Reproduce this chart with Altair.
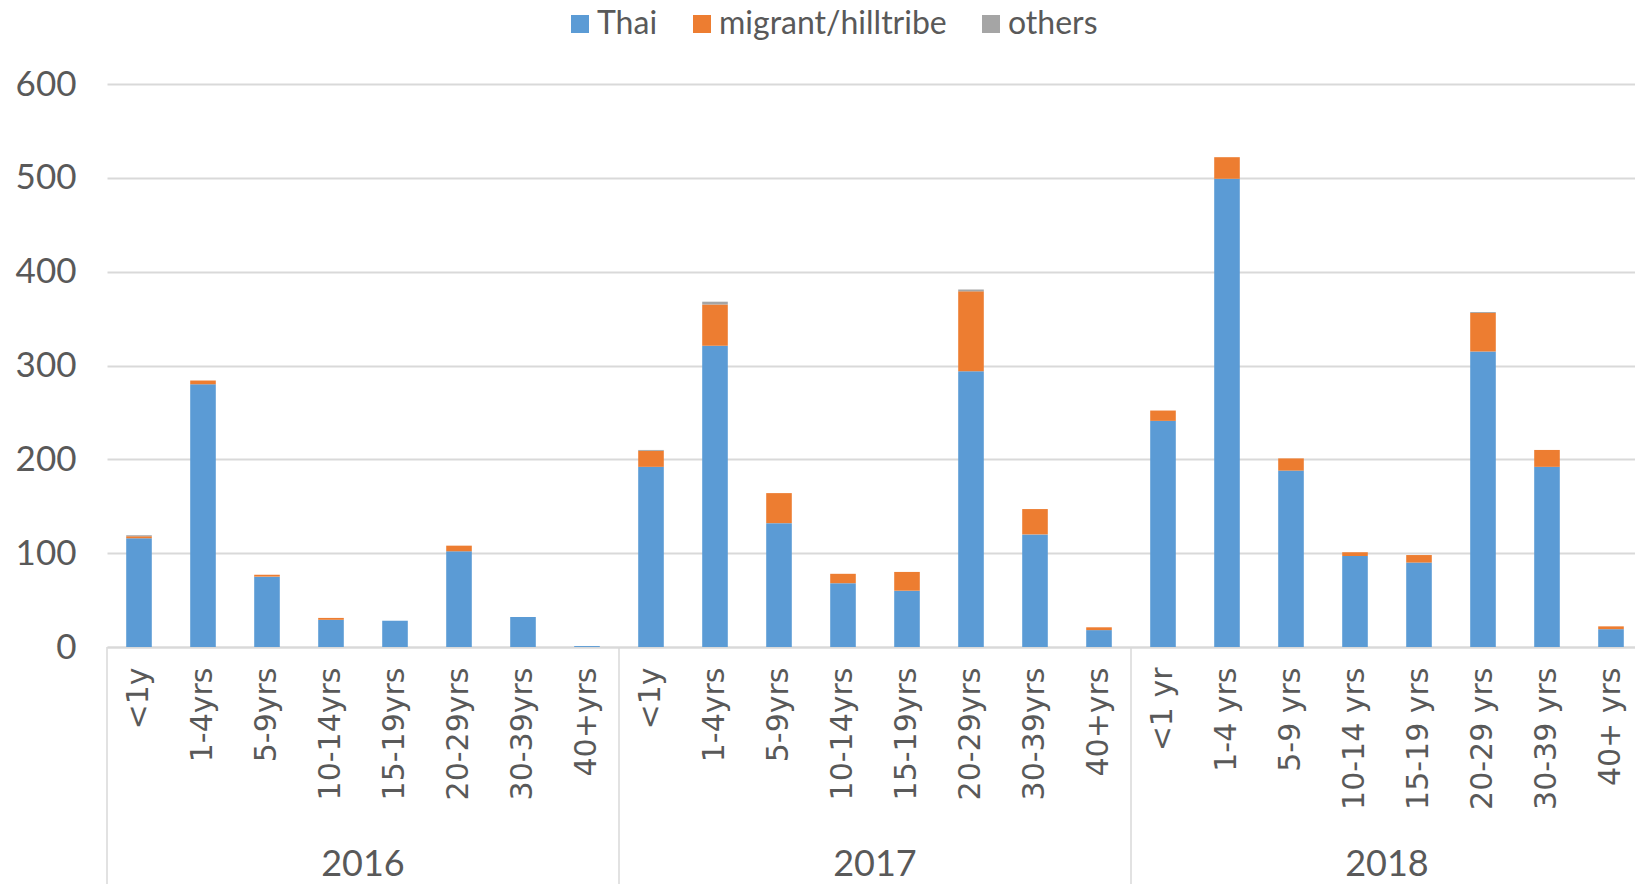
import altair as alt
import pandas as pd

# Case counts by age group, nationality and year
years = ["2016", "2017", "2018"]
ages_2016 = ["<1y", "1-4yrs", "5-9yrs", "10-14yrs", "15-19yrs", "20-29yrs", "30-39yrs", "40+yrs"]
ages_2017 = ["<1y", "1-4yrs", "5-9yrs", "10-14yrs", "15-19yrs", "20-29yrs", "30-39yrs", "40+yrs"]
ages_2018 = ["<1 yr", "1-4 yrs", "5-9 yrs", "10-14 yrs", "15-19 yrs", "20-29 yrs", "30-39 yrs", "40+ yrs"]

thai_2016 = [116, 280, 75, 29, 28, 102, 32, 1]
thai_2017 = [192, 321, 132, 68, 60, 294, 120, 18]
thai_2018 = [241, 499, 188, 97, 90, 315, 192, 19]

migrant_2016 = [2, 4, 2, 2, 0, 6, 0, 0]
migrant_2017 = [17, 44, 32, 10, 20, 85, 27, 3]
migrant_2018 = [11, 23, 13, 4, 8, 41, 18, 3]

others_2016 = [1, 0, 0, 0, 0, 0, 0, 0]
others_2017 = [1, 3, 0, 0, 0, 2, 0, 0]
others_2018 = [0, 0, 0, 0, 0, 1, 0, 0]

series = ["Thai", "migrant/hilltribe", "others"]
colors = ["#5B9BD5", "#ED7D31", "#A5A5A5"]

ages = {"2016": ages_2016, "2017": ages_2017, "2018": ages_2018}
values = {
    "Thai": {"2016": thai_2016, "2017": thai_2017, "2018": thai_2018},
    "migrant/hilltribe": {"2016": migrant_2016, "2017": migrant_2017, "2018": migrant_2018},
    "others": {"2016": others_2016, "2017": others_2017, "2018": others_2018},
}

rows = []
keys = []
for y in years:
    for a in ages[y]:
        keys.append(f"{y}|{a}")
for si, s in enumerate(series):
    for y in years:
        for a, v in zip(ages[y], values[s][y]):
            rows.append({"key": f"{y}|{a}", "year": y, "age": a, "group": s, "order": si, "count": v})
df = pd.DataFrame(rows)

# one row per year: first category (separator) and the middle boundary (year label)
year_rows = pd.DataFrame({
    "year": years,
    "first": [f"{y}|{ages[y][0]}" for y in years],
    "mid": [f"{y}|{ages[y][3]}" for y in years],
})

W, H = 1528, 563
STEP_RANGE = 1536
GRID = "#d9d9d9"
TXT = "#595959"

x_scale = alt.Scale(domain=keys, range=[0, STEP_RANGE], paddingInner=0, paddingOuter=0)

bars = alt.Chart(df).mark_bar(width=alt.RelativeBandSize(0.4)).encode(
    x=alt.X("key:N", scale=x_scale, sort=keys,
            axis=alt.Axis(title=None, labelAngle=270, labelAlign="right", labelBaseline="middle",
                          labelExpr="split(datum.label, '|')[1]", labelFont="DejaVu Sans",
                          labelFontSize=30, labelColor=TXT, labelPadding=20, ticks=False,
                          domainColor=GRID, domainWidth=2, labelOverlap=False, labelLimit=0)),
    y=alt.Y("count:Q", stack="zero", scale=alt.Scale(domain=[0, 600], nice=False),
            axis=alt.Axis(title=None, values=[0, 100, 200, 300, 400, 500, 600], labelFont="Lato",
                          labelFontSize=35, labelColor=TXT, labelPadding=31, ticks=False,
                          domain=False, gridColor=GRID, gridWidth=2)),
    color=alt.Color("group:N", scale=alt.Scale(domain=series, range=colors),
                    legend=alt.Legend(title=None, orient="none", legendX=457, legendY=-76,
                                      direction="horizontal", symbolType="square", symbolSize=324,
                                      symbolStrokeWidth=0, labelFont="Lato", labelFontSize=32,
                                      labelColor=TXT, columnPadding=28, labelOffset=1, padding=0,
                                      labelLimit=0)),
    order=alt.Order("order:Q", sort="ascending"),
)

separators = alt.Chart(year_rows).mark_rule(color=GRID, strokeWidth=1.5).encode(
    x=alt.X("first:N", scale=x_scale, bandPosition=0),
    y=alt.value(H),
    y2=alt.value(H + 240),
)

year_labels = alt.Chart(year_rows).mark_text(font="Lato", fontSize=36, color=TXT,
                                             baseline="middle", align="center").encode(
    x=alt.X("mid:N", scale=x_scale, bandPosition=1),
    y=alt.value(H + 218),
    text="year:N",
)

chart = alt.layer(bars, separators, year_labels).properties(
    width=W, height=H,
    autosize=alt.AutoSizeParams(type="none"),
    padding={"left": 107, "top": 84, "right": 0, "bottom": 237},
).configure(background="white", view=alt.ViewConfig(stroke=None))

chart.save("out.html", embed_options={"renderer": "svg", "actions": False})
